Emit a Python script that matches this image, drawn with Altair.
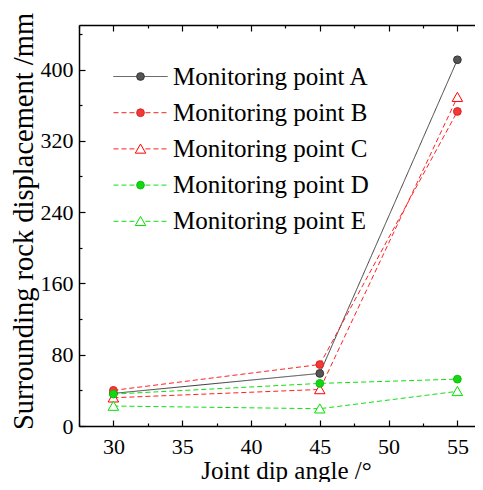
import altair as alt
import pandas as pd

# ---- data ----
angles = [30, 45, 55]
series_names = ["Monitoring point A", "Monitoring point B", "Monitoring point C",
                "Monitoring point D", "Monitoring point E"]
point_a = [36.6, 59.0, 411.0]
point_b = [40.0, 69.0, 353.0]
point_c = [31.7, 41.0, 369.0]
point_d = [35.8, 47.8, 52.6]
point_e = [22.4, 19.4, 38.9]

x_major = [30, 35, 40, 45, 50, 55]
x_minor = [27.5, 32.5, 37.5, 42.5, 47.5, 52.5]
y_major = [0, 80, 160, 240, 320, 400]
y_minor = [40, 120, 200, 280, 360, 440]

# ---- styling ----
TRI = "M0,-1.25L1.35,1.1L-1.35,1.1Z"
line_colors = ["#3c3c3c", "#ff2020", "#ff2020", "#10e010", "#10e010"]
line_dashes = [[1, 0], [5, 3], [5, 3], [5, 3], [5, 3]]
marker_shapes = ["circle", "circle", TRI, "circle", TRI]
marker_fills = ["#555555", "#f03a3a", "white", "#12d812", "white"]
marker_strokes = ["#333333", "#e02020", "#ff0000", "#0cc00c", "#00e000"]

values_by_series = [point_a, point_b, point_c, point_d, point_e]
rows = []
for name, vals in zip(series_names, values_by_series):
    for a, v in zip(angles, vals):
        rows.append({"series": name, "angle": a, "value": v})
df = pd.DataFrame(rows)

W, H = 396, 401
FONT = "Liberation Serif"

xs = alt.Scale(domain=[27.5, 56.28], nice=False, zero=False)
ys = alt.Scale(domain=[0, 450], nice=False, zero=True)

common_axis = dict(grid=False, domainColor="black", tickColor="black",
                   labelFont=FONT, titleFont=FONT, labelColor="black",
                   titleColor="black", titleFontWeight="normal")


def hidden_axis(orient, vals, size, offset, domain=False):
    return alt.Axis(orient=orient, values=vals, labels=False, title=None,
                    ticks=True, tickSize=size, tickWidth=1.2, offset=offset,
                    domain=domain, domainWidth=1.5, **common_axis)


base = alt.Chart(df)

leg_lines = alt.Legend(title=None, orient="none", legendX=49, legendY=39,
                       symbolType="M-5,0H5", symbolSize=117, symbolStrokeWidth=1,
                       labelFont=FONT, labelFontSize=25, labelColor="black",
                       labelOffset=20, rowPadding=10.2, padding=0, labelLimit=400)
leg_marks = alt.Legend(title=None, orient="none", legendX=49, legendY=39,
                       symbolSize=60, symbolStrokeWidth=1,
                       labelFont=FONT, labelFontSize=25, labelOpacity=0,
                       labelExpr="' '",
                       labelOffset=6, rowPadding=10.2, padding=0, labelLimit=400)

lines = base.mark_line(strokeWidth=1).encode(
    x=alt.X("angle:Q", scale=xs,
            axis=alt.Axis(title="Joint dip angle /°", values=x_major, ticks=False,
                          tickSize=0, domain=True, domainWidth=1.5,
                          labelFontSize=22, titleFontSize=25, labelPadding=10,
                          titleBaseline="alphabetic", titleY=52, titleX=207,
                          **common_axis)),
    y=alt.Y("value:Q", scale=ys,
            axis=alt.Axis(title="Surrounding rock displacement /mm", values=y_major,
                          ticks=False, tickSize=0, domain=True, domainWidth=1.5,
                          labelFontSize=22, titleFontSize=28.5, labelPadding=6,
                          titlePadding=2, titleY=196, **common_axis)),
    stroke=alt.Stroke("series:N", scale=alt.Scale(domain=series_names, range=line_colors),
                      legend=leg_lines),
    strokeDash=alt.StrokeDash("series:N", scale=alt.Scale(domain=series_names, range=line_dashes),
                              legend=leg_lines),
)

points = base.transform_calculate(mk="datum.series").mark_point(
    filled=False, size=60, strokeWidth=1, opacity=1).encode(
    x=alt.X("angle:Q", scale=xs, axis=hidden_axis("top", x_major, 6, -H)),
    y=alt.Y("value:Q", scale=ys, axis=hidden_axis("right", y_major, 6, -W)),
    color=alt.Color("mk:N", scale=alt.Scale(range=marker_strokes), legend=leg_marks),
    fill=alt.Fill("mk:N", scale=alt.Scale(range=marker_fills), legend=leg_marks),
    shape=alt.Shape("mk:N", scale=alt.Scale(range=marker_shapes), legend=leg_marks),
)

minor_in = base.mark_point(opacity=0).encode(
    x=alt.X("angle:Q", scale=xs, axis=hidden_axis("top", x_minor, 3, -H)),
    y=alt.Y("value:Q", scale=ys, axis=hidden_axis("right", y_minor, 3, -W)),
)

top_major = base.mark_point(opacity=0).encode(
    x=alt.X("angle:Q", scale=xs, axis=hidden_axis("bottom", x_major, 6, -H, domain=True)),
    y=alt.Y("value:Q", scale=ys, axis=None),
)

top_minor = base.mark_point(opacity=0).encode(
    x=alt.X("angle:Q", scale=xs, axis=hidden_axis("bottom", x_minor, 3, -H)),
    y=alt.Y("value:Q", scale=ys, axis=None),
)

chart = alt.layer(lines, points, minor_in, top_major, top_minor).resolve_axis(
    x="independent", y="independent"
).properties(
    width=W, height=H,
    padding={"top": 17, "left": 71, "right": 0, "bottom": 56},
    autosize=alt.AutoSizeParams(type="none"),
    background="white",
).configure_view(stroke=None)

chart.save("out.html", embed_options={"renderer": "svg", "actions": False})
